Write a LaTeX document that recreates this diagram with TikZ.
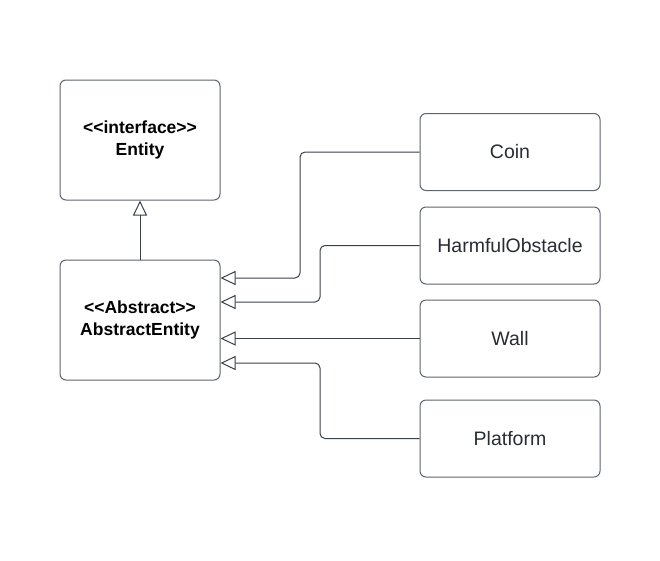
\documentclass[tikz,border=0pt]{standalone}
\usepackage{fontspec}
\setmainfont{Liberation Sans}[Ligatures=TeXOff]
\usetikzlibrary{arrows.meta}
\definecolor{boxline}{HTML}{5E646C}
\definecolor{conn}{HTML}{3A414A}
\definecolor{txt}{HTML}{282C33}
\begin{document}
\begin{tikzpicture}[x=1pt,y=-1pt,
  cls/.style={draw=boxline, line width=1pt, rounded corners=6pt, fill=white, inner sep=0pt},
  bigcls/.style={cls, minimum width=160pt, minimum height=120pt, font=\fontsize{17.5}{21.7}\selectfont\bfseries, text=black, align=center},
  subcls/.style={cls, minimum width=180pt, minimum height=77pt, font=\fontsize{19.5}{23}\selectfont, text=txt},
  inh/.style={draw=conn, line width=1pt, rounded corners=5pt, -{Triangle[open, length=15pt, width=14pt, line width=1pt]}}
]
\useasboundingbox (0,0) rectangle (660,560);
\node[bigcls] (entity) at (140,140) {<<interface>>\\Entity};
\node[bigcls] (abstract) at (140,320) {<<Abstract>>\\AbstractEntity};
\node[subcls] (coin) at (510,152) {Coin};
\node[subcls] (harm) at (510,245.5) {HarmfulObstacle};
\node[subcls] (wall) at (510,338.5) {Wall};
\node[subcls] (plat) at (510,438.5) {Platform};
\draw[inh] (abstract.north) -- (entity.south);
\draw[inh] (coin.west) -- (300,152) -- (300,278) -- (abstract.east |- 0,278);
\draw[inh] (harm.west) -- (320,245.5) -- (320,302) -- (abstract.east |- 0,302);
\draw[inh] (wall.west) -- (abstract.east |- wall.west);
\draw[inh] (plat.west) -- (320,438.5) -- (320,363) -- (abstract.east |- 0,363);
\end{tikzpicture}
\end{document}
